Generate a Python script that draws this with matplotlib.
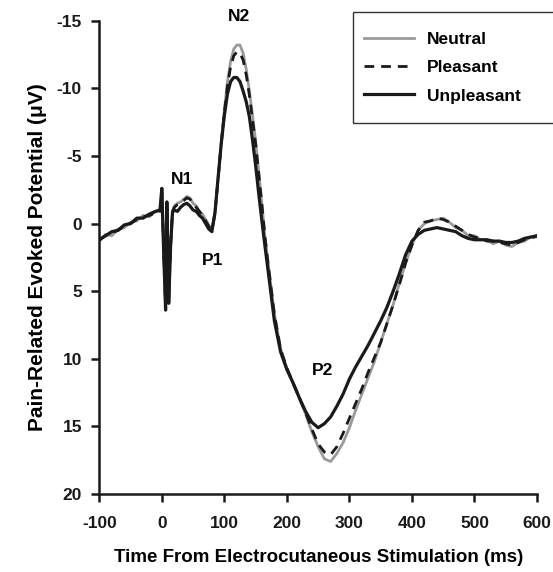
import matplotlib.pyplot as plt
from matplotlib.patches import Rectangle
from matplotlib.lines import Line2D

plt.rcParams['font.family'] = ['Liberation Sans', 'DejaVu Sans']
plt.rcParams['font.weight'] = 'bold'
plt.rcParams['axes.unicode_minus'] = False

# время (мс)
t = [-100, -90, -80, -70, -60, -50, -40, -30, -20, -10,
     -3, 0, 3, 6, 8, 11, 14, 17,
     20, 25, 30, 35, 40, 45, 50, 55, 60, 65, 70, 75, 80, 85, 90, 95,
     100, 105, 110, 115, 120, 125, 130, 135, 140, 145, 150, 155, 160, 165, 170,
     180, 190, 200, 210, 220, 230, 240, 250, 260, 270, 280, 290, 300,
     310, 320, 330, 340, 350, 360, 370, 380, 390, 400,
     410, 420, 430, 440, 450, 460, 470, 480, 490, 500,
     510, 520, 530, 540, 550, 560, 570, 580, 590, 600]

neutral = [1.3, 0.8, 0.9, 0.4, 0.3, -0.1, -0.2, -0.6, -0.5, -0.9,
           -0.9, -2.2, 2.0, 6.0, -1.3, 5.5, 1.5, -0.9,
           -1.3, -1.5, -1.6, -1.8, -2.0, -1.9, -1.5, -1.3, -0.9, -0.7, -0.3, 0.1, 0.55, -0.8, -3.3, -6.0,
           -8.4, -10.5, -12.0, -12.9, -13.2, -13.2, -12.6, -11.4, -9.8, -8.0, -6.1, -3.8, -1.5, 1.0, 2.9,
           6.7, 9.3, 10.7, 11.8, 12.9, 14.1, 15.4, 16.5, 17.4, 17.6, 17.0, 16.2, 15.1,
           13.8, 12.6, 11.4, 10.2, 8.8, 7.4, 6.0, 4.4, 2.9, 1.6,
           0.5, 0.0, -0.2, -0.3, -0.4, -0.1, 0.3, 0.5, 0.9, 0.9,
           1.2, 1.2, 1.5, 1.3, 1.6, 1.7, 1.4, 1.3, 1.0, 1.0]

pleasant = [1.2, 0.9, 0.7, 0.5, 0.2, 0.0, -0.3, -0.5, -0.6, -0.8,
            -0.9, -2.3, 2.0, 6.1, -1.4, 5.6, 1.6, -0.9,
            -1.2, -1.4, -1.5, -1.7, -1.9, -1.8, -1.5, -1.2, -0.9, -0.6, -0.2, 0.2, 0.5, -0.8, -3.3, -5.9,
            -8.2, -10.2, -11.6, -12.4, -12.7, -12.6, -12.1, -11.0, -9.5, -7.7, -5.9, -3.7, -1.4, 1.0, 3.0,
            6.7, 9.3, 10.7, 11.8, 12.9, 14.0, 15.2, 16.3, 16.9, 17.1, 16.5, 15.5, 14.4,
            13.3, 12.2, 11.0, 9.9, 8.8, 7.4, 6.0, 4.5, 2.9, 1.6,
            0.5, -0.1, -0.2, -0.4, -0.3, -0.1, 0.2, 0.5, 0.8, 1.0,
            1.1, 1.3, 1.3, 1.4, 1.5, 1.6, 1.4, 1.2, 1.1, 0.9]

unpleasant = [1.2, 0.9, 0.6, 0.5, 0.1, 0.0, -0.4, -0.4, -0.7, -0.9,
              -1.0, -2.6, 2.2, 6.4, -1.6, 5.9, 1.7, -0.8,
              -1.0, -0.9, -1.2, -1.4, -1.5, -1.3, -1.0, -0.9, -0.6, -0.4, 0.0, 0.4, 0.6, -0.8, -3.4, -5.9,
              -8.0, -9.6, -10.5, -10.8, -10.8, -10.5, -9.8, -9.0, -7.9, -6.2, -4.3, -2.2, -0.2, 1.7, 3.5,
              7.2, 9.5, 10.8, 11.8, 12.9, 13.9, 14.7, 15.1, 14.8, 14.3, 13.5, 12.6, 11.5,
              10.6, 9.8, 9.0, 8.1, 7.2, 6.2, 5.0, 3.7, 2.3, 1.3,
              0.8, 0.5, 0.4, 0.3, 0.4, 0.5, 0.6, 0.9, 1.1, 1.2,
              1.2, 1.2, 1.3, 1.3, 1.4, 1.4, 1.3, 1.1, 1.0, 0.9]

labels = ['Neutral', 'Pleasant', 'Unpleasant']
peaks = {'N1': (33, -3.25), 'P1': (81, 2.7), 'N2': (124, -15.3), 'P2': (257, 10.9)}

fig = plt.figure(figsize=(5.53, 5.72), dpi=100)
ax = fig.add_axes([0.1796, 0.1364, 0.7914, 0.8274])

gray = '#9a9a9a'
black = '#1a1a1a'
ax.plot(t, neutral, color=gray, lw=2.0)
ax.plot(t, pleasant, color=black, lw=2.0, dashes=(3.5, 2.5))
ax.plot(t, unpleasant, color=black, lw=2.3)

for name, (x, y) in peaks.items():
    ax.text(x, y, name, ha='center', va='center', fontsize=12.5,
            fontweight='bold', clip_on=False)

ax.set_xlim(-100, 600)
ax.set_ylim(20, -15)
ax.set_xticks(range(-100, 601, 100))
ax.set_yticks(range(-15, 21, 5))

for s in ['top', 'right']:
    ax.spines[s].set_visible(False)
for s in ['left', 'bottom']:
    ax.spines[s].set_linewidth(1.8)
    ax.spines[s].set_color(black)
ax.tick_params(direction='out', length=5.5, width=1.8, labelsize=12.5, colors=black)
ax.tick_params(axis='x', pad=10)
ax.tick_params(axis='y', pad=7)

ax.set_xlabel('Time From Electrocutaneous Stimulation (ms)', fontsize=13.5,
              fontweight='bold', labelpad=13)
ax.set_ylabel('Pain-Related Evoked Potential (\u03bcV)', fontsize=15,
              fontweight='bold', labelpad=7)

# рамка легенды (уходит за правый край)
fig.patches.append(Rectangle((352.7 / 553, 1 - 123 / 572), 0.4, (123 - 11.7) / 572,
                             transform=fig.transFigure, fill=False,
                             edgecolor='#333333', lw=1.0))
handles = [Line2D([], [], color=gray, lw=2.0),
           Line2D([], [], color=black, lw=2.0, dashes=(3.5, 2.5)),
           Line2D([], [], color=black, lw=2.3)]
fig.legend(handles, labels, loc='upper left', frameon=False,
           bbox_to_anchor=(364 / 553, 1 - 32 / 572), borderaxespad=0, borderpad=0,
           handlelength=2.9, handletextpad=0.75, labelspacing=0.75,
           prop={'size': 12.5, 'weight': 'bold'})

fig.savefig('out.png', dpi=100)
